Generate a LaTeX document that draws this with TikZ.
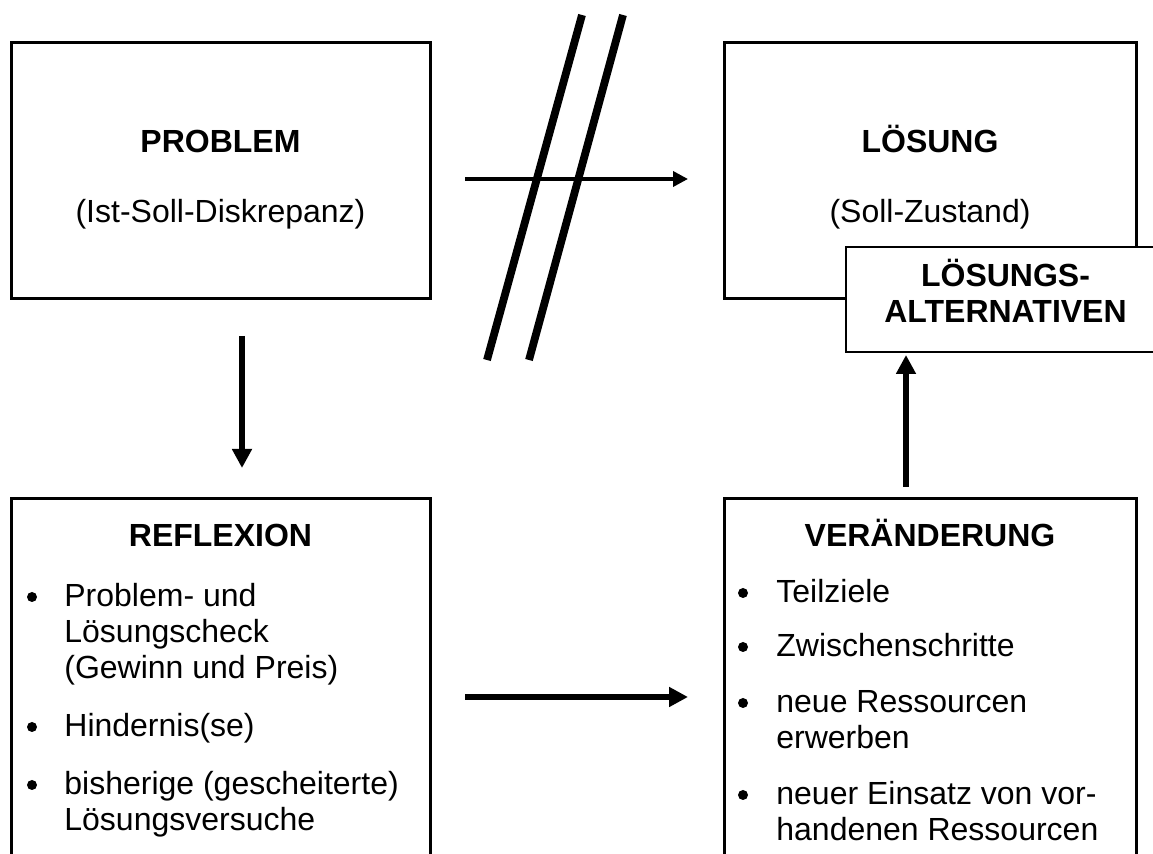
\documentclass[tikz,border=0pt]{standalone}
\usepackage{fontspec}
\setmainfont{Liberation Sans}
\usepackage{tikz}
\usetikzlibrary{arrows.meta,positioning,calc}
\tikzset{
  panel/.style={draw=black, line width=1.5pt, fill=white, anchor=north west,
    outer sep=0pt, inner sep=0pt},
  heading/.style={font=\fontsize{16}{18}\selectfont\bfseries, inner sep=0pt, anchor=base},
  subline/.style={font=\fontsize{16}{18}\selectfont, inner sep=0pt, anchor=base},
  itemtext/.style={font=\fontsize{16}{18}\selectfont, inner sep=0pt, anchor=base west},
  bulletmark/.style={circle, fill=black, inner sep=0pt, minimum size=5pt},
  wire/.style={-{Triangle[length=7.5pt,width=7.5pt]}, line width=1.8pt},
  heavywire/.style={-{Triangle[length=9.5pt,width=9.5pt]}, line width=3.2pt},
  barline/.style={line width=3.9pt}
}

\begin{document}
\begin{tikzpicture}[x=0.5pt, y=-0.5pt]
  \useasboundingbox (0,0) rectangle (1153,854);
  \clip (0,0) rectangle (1153,854);

  % boxes
  \node[panel, minimum width=209.5pt, minimum height=128pt] (problem) at (11,43) {};
  \node[panel, minimum width=206pt, minimum height=128pt] (loesung) at (724,43) {};
  \node[panel, minimum width=209.5pt, minimum height=190.5pt] (reflexion) at (11,499) {};
  \node[panel, minimum width=206pt, minimum height=190.5pt] (veraenderung) at (724,499) {};
  \node[panel, line width=1pt, minimum width=159.5pt, minimum height=52.5pt] (alternativen) at (846,247) {};

  % texts
  \node[heading] (problemtitle) at (220.5,153) {PROBLEM};
  \node[subline] (problemsub) at (220.5,223) {(Ist-Soll-Diskrepanz)};
  \node[heading] (loesungtitle) at (930,153) {LÖSUNG};
  \node[subline] (loesungsub) at (930,223) {(Soll-Zustand)};
  \node[heading] (alttitle) at (1005.5,287)
    {\begin{tabular}[t]{@{}c@{}}LÖSUNGS-\\ALTERNATIVEN\end{tabular}};
  \node[heading] (reflexiontitle) at (220.5,547) {REFLEXION};
  \node[heading] (veraenderungtitle) at (930,547) {VERÄNDERUNG};

  \foreach \yy/\txt [count=\i] in {607/{Problem- und\\Lösungscheck\\(Gewinn und Preis)},
      737/{Hindernis(se)}, 795/{bisherige (gescheiterte)\\Lösungsversuche}} {
    \node[bulletmark] (rdot\i) at (32,\yy-10) {};
    \node[itemtext] (ritem\i) at (64,\yy) {\begin{tabular}[t]{@{}l@{}}\txt\end{tabular}};
  }
  \foreach \yy/\txt [count=\i] in {603/{Teilziele}, 657/{Zwischenschritte},
      713/{neue Ressourcen\\erwerben}, 805/{neuer Einsatz von vor-\\handenen Ressourcen}} {
    \node[bulletmark] (vdot\i) at (743,\yy-10) {};
    \node[itemtext] (vitem\i) at (776,\yy) {\begin{tabular}[t]{@{}l@{}}\txt\end{tabular}};
  }

  % connectors
  \draw[wire] ([shift={(35,8)}]problem.east) -- ([shift={(-36,8)}]loesung.west);
  \draw[heavywire] ([shift={(21.5,37)}]problem.south) -- ([shift={(21.5,-31)}]reflexion.north);
  \draw[heavywire] ([shift={(35,7.5)}]reflexion.east) -- ([shift={(-36,7.5)}]veraenderung.west);
  \draw[heavywire] ([shift={(-24,-12)}]veraenderung.north) -- ([shift={(-99.5,3)}]alternativen.south);

  % crossing bars
  \draw[barline] (582,15) -- (487,360);
  \draw[barline] (623,15) -- (529,360);
\end{tikzpicture}
\end{document}
